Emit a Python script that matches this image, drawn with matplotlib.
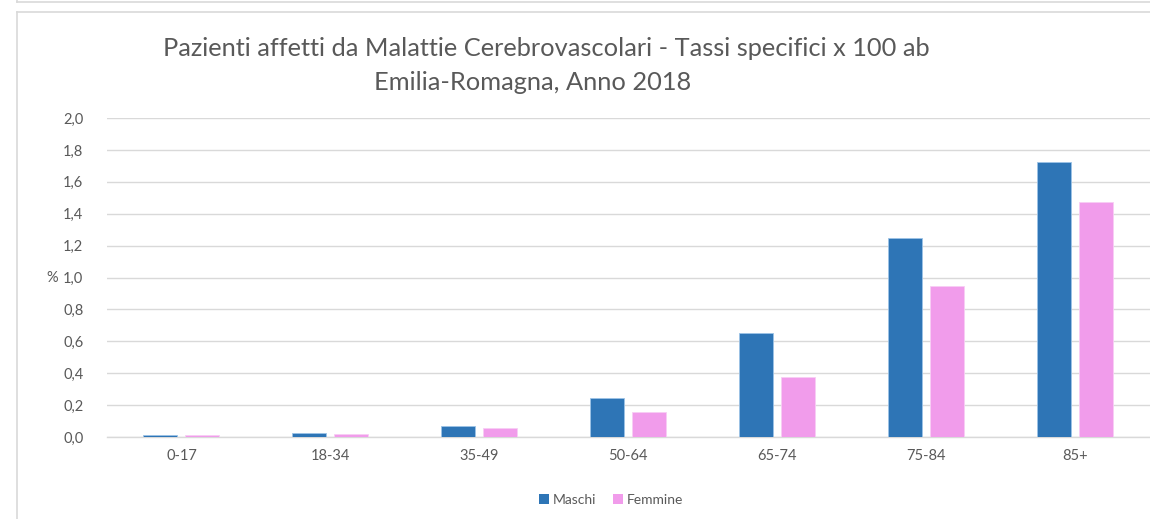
import matplotlib
matplotlib.use("Agg")
import matplotlib.pyplot as plt
from matplotlib.patches import Patch
from matplotlib.lines import Line2D
import numpy as np

categories = ["0-17", "18-34", "35-49", "50-64", "65-74", "75-84", "85+"]
maschi = [0.012, 0.022, 0.068, 0.245, 0.650, 1.248, 1.722]
femmine = [0.010, 0.020, 0.056, 0.157, 0.376, 0.947, 1.472]
yticks = [0.0, 0.2, 0.4, 0.6, 0.8, 1.0, 1.2, 1.4, 1.6, 1.8, 2.0]
series_names = ["Maschi", "Femmine"]

plt.rcParams['font.family'] = ['Lato', 'DejaVu Sans']
txt = "#595959"
c_m = "#2E75B6"
c_f = "#F19CEB"

W, H = 1150, 519
fig = plt.figure(figsize=(W/100, H/100), dpi=100)

# frame lines
fig.add_artist(Line2D([17/W, 1], [1-2/H, 1-2/H], color="#d9d9d9", lw=1.2))
fig.add_artist(Line2D([17/W, 17/W], [1, 1-2/H], color="#d9d9d9", lw=1.2))
fig.add_artist(Line2D([17/W, 1], [1-12/H, 1-12/H], color="#d9d9d9", lw=1.2))
fig.add_artist(Line2D([17/W, 17/W], [0, 1-12/H], color="#d9d9d9", lw=1.2))

ax = fig.add_axes([107/W, 1-437/H, (1149.5-107)/W, (437-118)/H])
x = np.arange(len(categories))
bw = 0.228
off = 0.141
ax.bar(x - off, maschi, bw, color=c_m, edgecolor="#9dc3e6", linewidth=0.6, zorder=3)
ax.bar(x + off, femmine, bw, color=c_f, edgecolor="#f8cdf5", linewidth=0.6, zorder=3)

ax.set_xlim(-0.5, len(categories) - 0.5)
ax.set_ylim(0, 2.0)
ax.set_yticks(yticks)
ax.set_yticklabels([f"{v:.1f}".replace(".", ",") for v in yticks])
ax.set_xticks(x)
ax.set_xticklabels(categories)
ax.yaxis.grid(True, color="#d9d9d9", lw=1.0, zorder=0)
for s in ["top", "right", "left"]:
    ax.spines[s].set_visible(False)
ax.spines["bottom"].set_color("#d9d9d9")
ax.spines["bottom"].set_linewidth(1.0)
ax.tick_params(axis="both", length=0, colors=txt, labelsize=10.5)
ax.tick_params(axis="y", pad=17)
ax.tick_params(axis="x", pad=9)
fig.text(52/W, 1-278/H, "%", color=txt, fontsize=10.5, ha="center", va="center")

fig.text(546/W, 1-48/H, "Pazienti affetti da Malattie Cerebrovascolari - Tassi specifici x 100 ab",
         ha="center", va="center", fontsize=18.3, color=txt)
fig.text(533/W, 1-82/H, "Emilia-Romagna, Anno 2018",
         ha="center", va="center", fontsize=18.3, color=txt)

handles = [Patch(facecolor=c_m), Patch(facecolor=c_f)]
fig.legend(handles, series_names, loc="center", bbox_to_anchor=(611/W, 1-500/H),
           ncol=2, frameon=False, fontsize=10, handlelength=0.7, handleheight=0.7,
           handletextpad=0.3, columnspacing=1.2, labelcolor=txt)

fig.savefig("out.png", dpi=100)
